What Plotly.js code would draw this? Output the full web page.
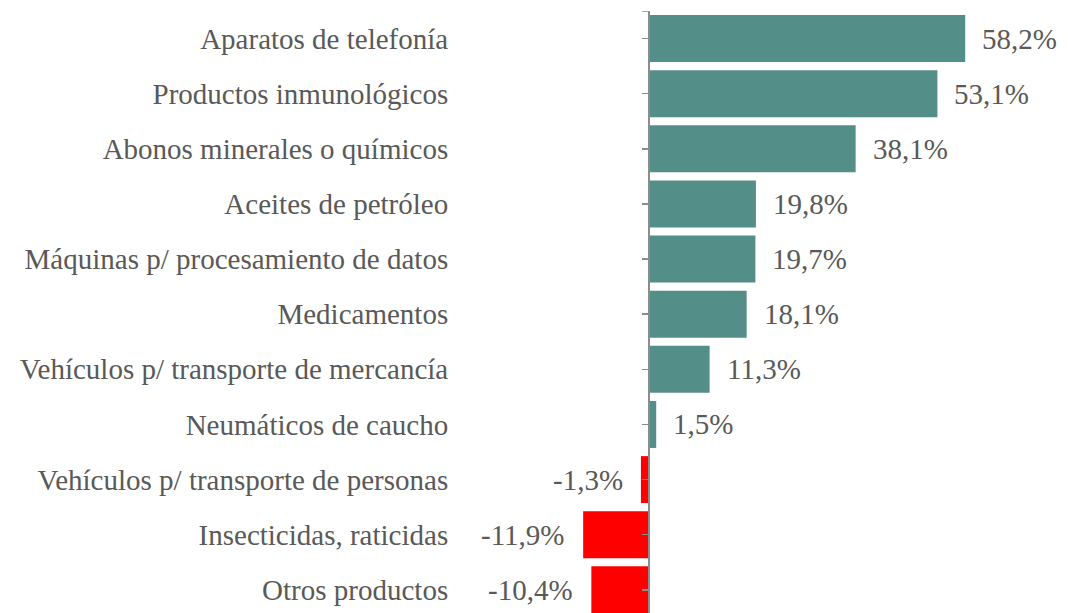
<!DOCTYPE html>
<html>
<head>
<meta charset="utf-8">
<script src="https://cdn.plot.ly/plotly-3.0.1.min.js"></script>
<style>
  html, body { margin: 0; padding: 0; background: #fff; }
  #chart { width: 1068px; height: 613px; }
</style>
</head>
<body>
<div id="chart"></div>
<script>
const categories = [
  "Aparatos de telefonía",
  "Productos inmunológicos",
  "Abonos minerales o químicos",
  "Aceites de petróleo",
  "Máquinas p/ procesamiento de datos",
  "Medicamentos",
  "Vehículos p/ transporte de mercancía",
  "Neumáticos de caucho",
  "Vehículos p/ transporte de personas",
  "Insecticidas, raticidas",
  "Otros productos",
];
const values = [58.2, 53.1, 38.1, 19.8, 19.7, 18.1, 11.3, 1.5, -1.3, -11.9, -10.4];

const teal = "#548e88";
const red = "#ff0000";
const textColor = "#595959";
const axisColor = "#8c8c8c";
const font = "Liberation Serif, Times New Roman, serif";

const trace = {
  type: "bar",
  orientation: "h",
  x: values,
  y: categories.map((_, i) => i),
  marker: { color: values.map((v) => (v < 0 ? red : teal)) },
  hoverinfo: "skip",
};

const labels = values.map((v, i) => ({
  x: v,
  y: i,
  xref: "x",
  yref: "y",
  text: v.toFixed(1).replace(".", ",") + "%",
  showarrow: false,
  xanchor: v < 0 ? "right" : "left",
  yanchor: "middle",
  xshift: v < 0 ? -16 : 15,
  font: { family: font, size: 29, color: textColor },
}));

const layout = {
  width: 1068,
  height: 613,
  margin: { l: 0, r: 0, t: 11, b: 0 },
  paper_bgcolor: "#fff",
  plot_bgcolor: "#fff",
  showlegend: false,
  bargap: 0.148,
  xaxis: {
    visible: false,
    range: [-118.9, 77.06],
    fixedrange: true,
  },
  yaxis: {
    anchor: "free",
    position: 648 / 1068,
    range: [10.42, -0.5],
    tickmode: "array",
    tickvals: categories.map((_, i) => i),
    ticktext: categories,
    ticks: "outside",
    ticklen: 6,
    tickwidth: 1.5,
    tickcolor: axisColor,
    showline: true,
    linecolor: axisColor,
    linewidth: 1.5,
    showgrid: false,
    zeroline: false,
    ticklabelstandoff: 188,
    tickfont: { family: font, size: 29, color: textColor },
    automargin: false,
  },
  shapes: [
    {
      type: "line",
      xref: "x",
      yref: "y",
      x0: -1.1,
      x1: 0,
      y0: -0.5,
      y1: -0.5,
      line: { color: axisColor, width: 1.5 },
    },
  ],
  annotations: labels,
};

Plotly.newPlot("chart", [trace], layout, { displayModeBar: false, staticPlot: true });
</script>
</body>
</html>
